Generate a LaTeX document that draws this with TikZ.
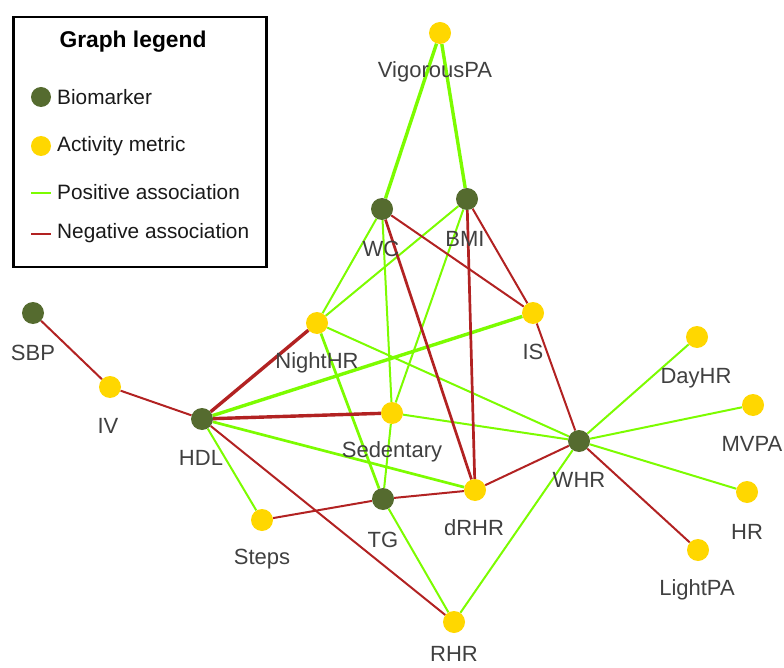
\documentclass[tikz,border=0pt]{standalone}
\usepackage{fontspec}
\setmainfont{Liberation Sans}
\usetikzlibrary{backgrounds}
\definecolor{biocol}{HTML}{556B2F}
\definecolor{actcol}{HTML}{FFD700}
\definecolor{poscol}{HTML}{7CFC00}
\definecolor{negcol}{HTML}{B22222}
\definecolor{labcol}{HTML}{404040}
\begin{document}
\begin{tikzpicture}[x=1pt,y=-1pt,
  bio/.style={circle,fill=biocol,draw=none,minimum size=22pt,inner sep=0pt},
  act/.style={circle,fill=actcol,draw=none,minimum size=22pt,inner sep=0pt},
  lab/.style={text=labcol,inner sep=0pt,font=\fontsize{22}{26}\selectfont},
  posedge/.style={draw=poscol,line width=2pt},
  negedge/.style={draw=negcol,line width=2pt},
  midw/.style={line width=2.7pt},
  thickw/.style={line width=3.4pt},
  legtext/.style={text=black!90,inner sep=0pt,anchor=west,font=\fontsize{20.8}{25}\selectfont}]
\useasboundingbox (0,0) rectangle (784,668);

% nodes: biomarkers and activity metrics
\node[act] (VigorousPA) at (440,33) {};
\node[bio] (WC) at (382,209) {};
\node[bio] (BMI) at (467,199) {};
\node[act] (NightHR) at (317,323) {};
\node[act] (IS) at (533,313) {};
\node[bio] (SBP) at (33,313) {};
\node[act] (IV) at (110,387) {};
\node[bio] (HDL) at (202,419) {};
\node[act] (Sedentary) at (392,413) {};
\node[bio] (TG) at (383,499) {};
\node[act] (dRHR) at (475,490) {};
\node[act] (Steps) at (262,520) {};
\node[bio] (WHR) at (579,441) {};
\node[act] (DayHR) at (697,337) {};
\node[act] (MVPA) at (753,405) {};
\node[act] (HR) at (747,492) {};
\node[act] (LightPA) at (698,550) {};
\node[act] (RHR) at (454,622) {};

% edges
\begin{pgfonlayer}{background}
  % positive associations
  \draw[posedge,thickw] (VigorousPA) -- (WC);
  \draw[posedge,thickw] (VigorousPA) -- (BMI);
  \draw[posedge] (WC) -- (NightHR);
  \draw[posedge] (WC) -- (Sedentary);
  \draw[posedge] (BMI) -- (NightHR);
  \draw[posedge] (BMI) -- (Sedentary);
  \draw[posedge,midw] (NightHR) -- (TG);
  \draw[posedge] (NightHR) -- (WHR);
  \draw[posedge,thickw] (HDL) -- (IS);
  \draw[posedge,midw] (HDL) -- (dRHR);
  \draw[posedge] (HDL) -- (Steps);
  \draw[posedge] (Sedentary) -- (WHR);
  \draw[posedge] (Sedentary) -- (TG);
  \draw[posedge] (TG) -- (RHR);
  \draw[posedge] (RHR) -- (WHR);
  \draw[posedge] (WHR) -- (DayHR);
  \draw[posedge] (WHR) -- (MVPA);
  \draw[posedge] (WHR) -- (HR);
  % negative associations
  \draw[negedge] (SBP) -- (IV);
  \draw[negedge] (IV) -- (HDL);
  \draw[negedge,thickw] (HDL) -- (NightHR);
  \draw[negedge,thickw] (HDL) -- (Sedentary);
  \draw[negedge] (HDL) -- (RHR);
  \draw[negedge] (WC) -- (IS);
  \draw[negedge,midw] (WC) -- (dRHR);
  \draw[negedge,midw] (BMI) -- (dRHR);
  \draw[negedge] (BMI) -- (IS);
  \draw[negedge] (IS) -- (WHR);
  \draw[negedge] (dRHR) -- (WHR);
  \draw[negedge] (TG) -- (dRHR);
  \draw[negedge] (Steps) -- (TG);
  \draw[negedge] (WHR) -- (LightPA);
\end{pgfonlayer}

% labels
\node[lab] (lVigorousPA) at (435,72) {VigorousPA};
\node[lab] (lWC) at (381,249) {WC};
\node[lab] (lBMI) at (465,239) {BMI};
\node[lab] (lNightHR) at (317,363) {NightHR};
\node[lab] (lIS) at (533,352) {IS};
\node[lab] (lSBP) at (33,353) {SBP};
\node[lab] (lIV) at (108,426) {IV};
\node[lab] (lHDL) at (201,458) {HDL};
\node[lab] (lSedentary) at (392,452) {Sedentary};
\node[lab] (lTG) at (383,540) {TG};
\node[lab] (ldRHR) at (474,528) {dRHR};
\node[lab] (lSteps) at (262,559) {Steps};
\node[lab] (lWHR) at (579,480) {WHR};
\node[lab] (lDayHR) at (696,378) {DayHR};
\node[lab] (lMVPA) at (752,444) {MVPA};
\node[lab] (lHR) at (747,532) {HR};
\node[lab] (lLightPA) at (697,590) {LightPA};
\node[lab] (lRHR) at (454,654) {RHR};

% legend
\node[draw=black,line width=2.5pt,minimum width=253pt,minimum height=250pt,anchor=north west,inner sep=0pt] (legend) at (12,16) {};
\node[inner sep=0pt,font=\fontsize{22.8}{27}\bfseries\selectfont] (legtitle) at (133,42) {Graph legend};
\node[bio,minimum size=20pt] (legbio) at (41,97) {};
\node[legtext] (legbiotext) at (57,97) {Biomarker};
\node[act,minimum size=20pt] (legact) at (41,146) {};
\node[legtext] (legacttext) at (57,146) {Activity metric};
\coordinate (lp1) at (31,193);
\coordinate (lp2) at (51,193);
\draw[posedge] (lp1) -- (lp2);
\node[legtext] (legpostext) at (57,192) {Positive association};
\coordinate (ln1) at (31,234);
\coordinate (ln2) at (51,234);
\draw[negedge] (ln1) -- (ln2);
\node[legtext] (legnegtext) at (57,233) {Negative association};
\end{tikzpicture}
\end{document}
